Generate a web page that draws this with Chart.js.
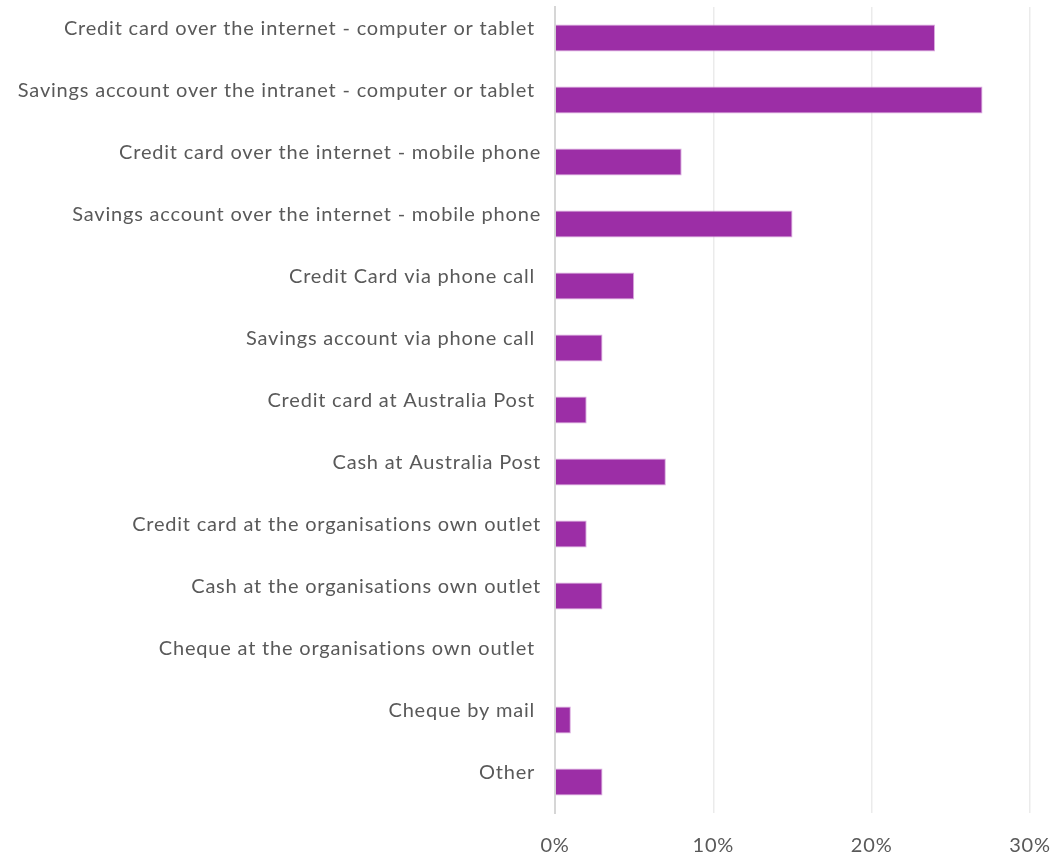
<!DOCTYPE html>
<html>
<head>
<meta charset="utf-8">
<script src="https://cdn.jsdelivr.net/npm/chart.js@4/dist/chart.umd.min.js"></script>
<style>
  html, body { margin: 0; padding: 0; background: #ffffff; }
  canvas { display: block; }
</style>
</head>
<body>
<canvas id="paymentChart" width="1059" height="861"></canvas>
<script>
// payment channels, top to bottom
const channels = [
  'Credit card over the internet - computer or tablet ',
  'Savings account over the intranet - computer or tablet ',
  'Credit card over the internet - mobile phone',
  'Savings account over the internet - mobile phone',
  'Credit Card via phone call ',
  'Savings account via phone call ',
  'Credit card at Australia Post ',
  'Cash at Australia Post',
  'Credit card at the organisations own outlet',
  'Cash at the organisations own outlet',
  'Cheque at the organisations own outlet ',
  'Cheque by mail ',
  'Other '
];

// share of respondents (%)
const shares = [24, 27, 8, 15, 5, 3, 2, 7, 2, 3, 0, 1, 3];

const xTicks = [0, 10, 20, 30];

const textColor = '#595959';
const barColor = '#9c2ea6';

// slightly wider letter spacing for all canvas text
const spacing = {
  id: 'spacing',
  beforeLayout(chart) { chart.ctx.letterSpacing = '0.8px'; },
  beforeDraw(chart) { chart.ctx.letterSpacing = '0.8px'; }
};

const ctx = document.getElementById('paymentChart').getContext('2d');
new Chart(ctx, {
  type: 'bar',
  data: {
    labels: channels,
    datasets: [{
      data: shares,
      backgroundColor: barColor,
      borderColor: 'rgba(214,160,220,0.9)',
      borderWidth: 1,
      categoryPercentage: 0.87,
      barPercentage: 0.5
    }]
  },
  plugins: [spacing],
  options: {
    indexAxis: 'y',
    responsive: false,
    animation: false,
    layout: { padding: { top: 7, right: 29, bottom: 0, left: 0 } },
    plugins: {
      legend: { display: false },
      tooltip: { enabled: false }
    },
    scales: {
      x: {
        min: 0,
        max: 30,
        afterBuildTicks: (scale) => {
          scale.ticks = xTicks.map(v => ({ value: v }));
        },
        afterFit: (scale) => {
          scale.height = 48;
          scale.paddingLeft = 0;
          scale.paddingRight = 0;
        },
        grid: { color: '#ebebeb', lineWidth: 1.5, drawTicks: false },
        border: { display: false },
        ticks: {
          padding: 21,
          color: textColor,
          font: { family: 'Lato', size: 20 },
          callback: (v) => v + '%'
        }
      },
      y: {
        afterFit: (scale) => {
          scale.width = 555;
          scale.paddingTop = 0;
          scale.paddingBottom = 0;
        },
        grid: { display: false, drawTicks: false },
        border: { display: true, color: '#d6d6d6', width: 2 },
        ticks: {
          padding: 14,
          labelOffset: -9,
          color: textColor,
          font: { family: 'Lato', size: 20 }
        }
      }
    }
  }
});
</script>
</body>
</html>
